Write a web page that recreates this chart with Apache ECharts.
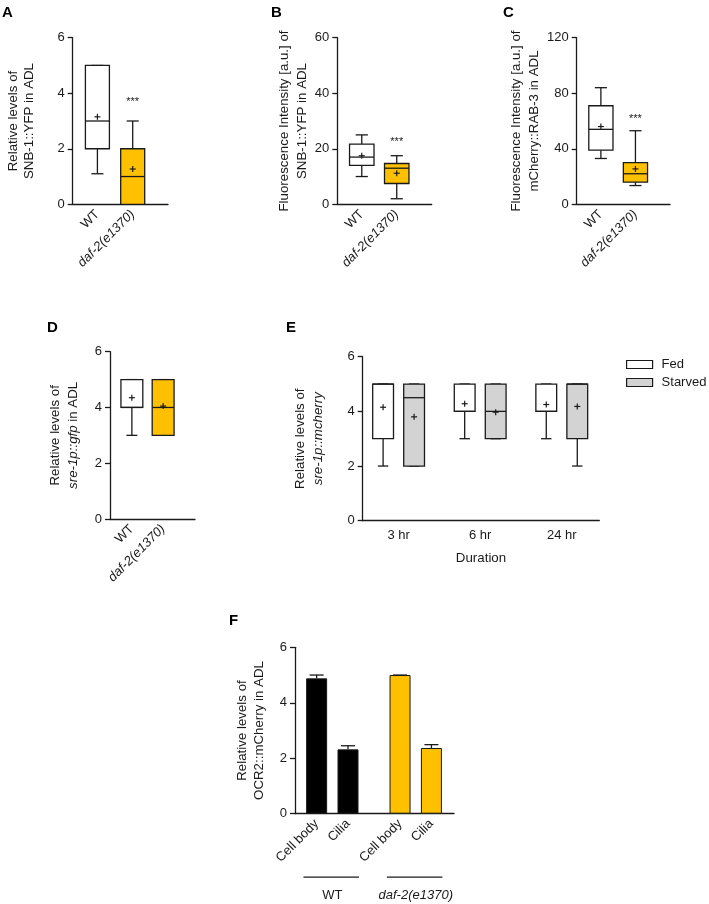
<!DOCTYPE html>
<html>
<head>
<meta charset="utf-8">
<title>ADL panels</title>
<script src="https://cdn.jsdelivr.net/npm/echarts@6/dist/echarts.min.js"></script>
<style>
  html, body { margin: 0; padding: 0; background: #fff; }
  #chart { width: 709px; height: 904px; }
</style>
</head>
<body>
<div id="chart"></div>
<script>
// ---- data ----
const genotypes = ['WT', 'daf-2(e1370)'];
// box stats: [min, q1, median, q3, max]
const snbLevelStats = [[1.1, 2, 3, 5, 5], [0, 0, 1, 2, 3]];
const snbLevelMeans = [3.15, 1.27];
const snbLevelSig = [null, 3.68];
const snbIntensityStats = [[10, 14, 17, 21.7, 25], [2, 7.5, 13, 14.7, 17.5]];
const snbIntensityMeans = [17.5, 11.2];
const snbIntensitySig = [null, 22.5];
const rabIntensityStats = [[33, 39, 54, 71, 84], [13.5, 16, 22, 30, 53]];
const rabIntensityMeans = [56, 25.5];
const rabIntensitySig = [null, 61.5];
const sreLevelStats = [[3, 4, 4, 5, 5], [3, 3, 4, 5, 5]];
const sreLevelMeans = [4.35, 4.05];
const sigText = '***';

const durations = ['3 hr', '6 hr', '24 hr'];
const fedStats = [[2, 3, 5, 5, 5], [3, 4, 4, 5, 5], [3, 4, 4, 5, 5]];
const fedMeans = [4.15, 4.28, 4.25];
const starvedStats = [[2, 2, 4.5, 5, 5], [3, 3, 4, 5, 5], [2, 3, 5, 5, 5]];
const starvedMeans = [3.8, 3.97, 4.18];

const sites = ['Cell body', 'Cilia'];
const ocrMeans = [[4.88, 2.32], [5.0, 2.37]];
const ocrSem = [[0.12, 0.13], [0, 0.12]];

const levelTicks = [0, 2, 4, 6];
const snbIntensityTicks = [0, 20, 40, 60];
const rabIntensityTicks = [0, 40, 80, 120];

// ---- styles ----
const INK = '#1a1a1a';
const ORANGE = '#FFC000';
const GREY = '#D3D3D3';
const FONT = 'Liberation Sans, Arial, sans-serif';

const chart = echarts.init(document.getElementById('chart'));

function tickRange(ticks) {
  return { min: ticks[0], max: ticks[ticks.length - 1], interval: ticks[1] - ticks[0] };
}

function italicLabel(name) {
  return name.indexOf('daf') === 0 ? '{i|' + name + '}' : name;
}

// y 轴
function makeYAxis(gridIndex, ticks, name, gap, lineH) {
  return Object.assign({
    type: 'value',
    gridIndex: gridIndex,
    name: name,
    nameLocation: 'middle',
    nameRotate: 90,
    nameGap: gap,
    nameTextStyle: {
      fontFamily: FONT, fontSize: 13.3, color: INK, lineHeight: lineH, align: 'center',
      rich: { i: { fontFamily: FONT, fontSize: 13.3, color: INK, fontStyle: 'italic', lineHeight: lineH } }
    },
    axisLine: { show: true, lineStyle: { color: INK, width: 1.3 } },
    axisTick: { show: true, length: 5, lineStyle: { color: INK, width: 1.3 } },
    axisLabel: { margin: 8, fontFamily: FONT, fontSize: 13, color: INK },
    splitLine: { show: false }
  }, tickRange(ticks));
}

// x 轴（数值轴，标签放在指定位置）
function makeXAxis(gridIndex, min, max, positions, labels, opts) {
  return Object.assign({
    type: 'value',
    gridIndex: gridIndex,
    position: 'bottom',
    min: min,
    max: max,
    axisLine: { show: true, onZero: false, lineStyle: { color: INK, width: 1.3 } },
    axisTick: { show: false },
    splitLine: { show: false },
    axisLabel: {
      customValues: positions,
      fontFamily: FONT, fontSize: 13, color: INK,
      rotate: 45, margin: 8,
      formatter: function (v) {
        for (let i = 0; i < positions.length; i++) {
          if (Math.abs(positions[i] - v) < 1e-6) return italicLabel(labels[i]);
        }
        return '';
      },
      rich: { i: { fontFamily: FONT, fontSize: 13, color: INK, fontStyle: 'italic' } }
    }
  }, opts || {});
}

// 箱线图（自定义系列）
function boxRenderer(fills, boxW, sigs) {
  return function (params, api) {
    const x = api.value(0);
    const p = [1, 2, 3, 4, 5].map(function (d) { return api.coord([x, api.value(d)]); });
    const m = api.coord([x, api.value(6)]);
    const cx = p[0][0];
    const w = api.size([boxW, 0])[0];
    const cap = w * 0.5;
    const ls = { stroke: INK, lineWidth: 1.3, fill: null };
    const children = [
      { type: 'line', shape: { x1: cx, y1: p[0][1], x2: cx, y2: p[1][1] }, style: ls },
      { type: 'line', shape: { x1: cx, y1: p[3][1], x2: cx, y2: p[4][1] }, style: ls },
      { type: 'line', shape: { x1: cx - cap / 2, y1: p[0][1], x2: cx + cap / 2, y2: p[0][1] }, style: ls },
      { type: 'line', shape: { x1: cx - cap / 2, y1: p[4][1], x2: cx + cap / 2, y2: p[4][1] }, style: ls },
      { type: 'rect', shape: { x: cx - w / 2, y: p[3][1], width: w, height: p[1][1] - p[3][1] },
        style: { fill: fills[params.dataIndex % fills.length], stroke: INK, lineWidth: 1.3 } },
      { type: 'line', shape: { x1: cx - w / 2, y1: p[2][1], x2: cx + w / 2, y2: p[2][1] }, style: ls },
      { type: 'line', shape: { x1: m[0] - 3, y1: m[1], x2: m[0] + 3, y2: m[1] }, style: { stroke: INK, lineWidth: 1.2 } },
      { type: 'line', shape: { x1: m[0], y1: m[1] - 3, x2: m[0], y2: m[1] + 3 }, style: { stroke: INK, lineWidth: 1.2 } }
    ];
    if (sigs && sigs[params.dataIndex] != null) {
      const s = api.coord([x, sigs[params.dataIndex]]);
      children.push({
        type: 'text',
        style: {
          x: s[0], y: s[1], text: sigText,
          fill: INK, font: '11px ' + FONT, align: 'center', verticalAlign: 'middle'
        }
      });
    }
    return { type: 'group', children: children };
  };
}

function boxData(stats, means, offset) {
  return stats.map(function (s, i) { return [i + 1 + (offset || 0)].concat(s, [means[i]]); });
}

function boxSeries(name, idx, stats, means, fills, boxW, sigs, offset) {
  return {
    type: 'custom',
    name: name,
    xAxisIndex: idx,
    yAxisIndex: idx,
    renderItem: boxRenderer(fills, boxW, sigs),
    encode: { x: 0, y: [1, 2, 3, 4, 5, 6] },
    data: boxData(stats, means, offset),
    silent: true
  };
}

// ---- 面板 F 位置 ----
const fGroupStep = 2.66;
const fPositions = [];
const fLabels = [];
const fBars = [];
const fErr = [];
genotypes.forEach(function (g, gi) {
  sites.forEach(function (s, si) {
    const x = 1 + gi * fGroupStep + si;
    fPositions.push(x);
    fLabels.push(s);
    fBars.push({
      value: [x, ocrMeans[gi][si]],
      itemStyle: { color: gi === 0 ? '#000' : ORANGE, borderColor: INK, borderWidth: 1 }
    });
    fErr.push([x, ocrMeans[gi][si], ocrSem[gi][si]]);
  });
});
const fGroupCenters = genotypes.map(function (g, gi) { return 1 + gi * fGroupStep + 0.5; });
const fGroupSpans = genotypes.map(function (g, gi) {
  return [1 + gi * fGroupStep - 0.42, 1 + gi * fGroupStep + 1 + 0.35];
});

const abcdPos = [1, 2];
const ePos = [1, 2, 3];

const option = {
  backgroundColor: '#fff',
  animation: false,
  textStyle: { fontFamily: FONT },
  title: [
    { text: 'A', left: 2, top: 5 },
    { text: 'B', left: 271, top: 5 },
    { text: 'C', left: 503, top: 5 },
    { text: 'D', left: 47, top: 320 },
    { text: 'E', left: 286, top: 320 },
    { text: 'F', left: 229, top: 613 }
  ].map(function (t) {
    return Object.assign(t, { padding: 0, textStyle: { fontFamily: FONT, fontSize: 15, fontWeight: 'bold', color: '#000' } });
  }),
  legend: {
    orient: 'vertical',
    left: 621,
    top: 353,
    itemWidth: 26,
    itemHeight: 8,
    itemGap: 5,
    selectedMode: false,
    textStyle: { fontFamily: FONT, fontSize: 13, color: INK, padding: [0, 0, 0, 4] },
    data: [
      { name: 'Fed', icon: 'rect', itemStyle: { color: '#fff', borderColor: INK, borderWidth: 1.2 } },
      { name: 'Starved', icon: 'rect', itemStyle: { color: GREY, borderColor: INK, borderWidth: 1.2 } }
    ]
  },
  grid: [
    { left: 72.7, top: 37.7, width: 95.3, height: 166.6 },
    { left: 337.3, top: 37.7, width: 94.4, height: 166.6 },
    { left: 576.7, top: 37.7, width: 93.3, height: 166.6 },
    { left: 110, top: 351.7, width: 85, height: 167.3 },
    { left: 362.7, top: 356.7, width: 236.6, height: 164 },
    { left: 295, top: 647.3, width: 159, height: 166.4 }
  ].map(function (g) { return Object.assign(g, { outerBoundsMode: 'none', containLabel: false }); }),
  xAxis: [
    makeXAxis(0, 0.3, 3.0, abcdPos, genotypes),
    makeXAxis(1, 0.3, 3.0, abcdPos, genotypes),
    makeXAxis(2, 0.3, 3.0, abcdPos, genotypes),
    makeXAxis(3, 0.3, 3.02, abcdPos, genotypes),
    (function () {
      const ax = makeXAxis(4, 0.56, 3.46, ePos, durations, {
        name: 'Duration', nameLocation: 'middle', nameGap: 31,
        nameTextStyle: { fontFamily: FONT, fontSize: 13.3, color: INK }
      });
      ax.axisLabel.rotate = 0;
      ax.axisLabel.margin = 8;
      return ax;
    })(),
    makeXAxis(5, 0.31, 5.38, fPositions, fLabels),
    (function () {
      const ax = makeXAxis(5, 0.31, 5.38, fGroupCenters, genotypes);
      ax.axisLine.show = false;
      ax.axisLabel.rotate = 0;
      ax.axisLabel.margin = 75;
      return ax;
    })()
  ],
  yAxis: [
    makeYAxis(0, levelTicks, 'Relative levels of\nSNB-1::YFP in ADL', 35, 16),
    makeYAxis(1, snbIntensityTicks, 'Fluorescence Intensity [a.u.] of\nSNB-1::YFP in ADL', 25, 18),
    makeYAxis(2, rabIntensityTicks, 'Fluorescence Intensity [a.u.] of\nmCherry::RAB-3 in ADL', 33, 18),
    makeYAxis(3, levelTicks, 'Relative levels of\n{i|sre-1p::gfp} in ADL', 28, 18),
    makeYAxis(4, levelTicks, 'Relative levels of\n{i|sre-1p::mcherry}', 35, 18),
    makeYAxis(5, levelTicks, 'Relative levels of\nOCR2::mCherry in ADL', 27, 17)
  ],
  series: [
    boxSeries('A', 0, snbLevelStats, snbLevelMeans, ['#fff', ORANGE], 0.68, snbLevelSig),
    boxSeries('B', 1, snbIntensityStats, snbIntensityMeans, ['#fff', ORANGE], 0.7, snbIntensitySig),
    boxSeries('C', 2, rabIntensityStats, rabIntensityMeans, ['#fff', ORANGE], 0.7, rabIntensitySig),
    boxSeries('D', 3, sreLevelStats, sreLevelMeans, ['#fff', ORANGE], 0.7, null),
    boxSeries('Fed', 4, fedStats, fedMeans, ['#fff'], 0.255, null, -0.19),
    boxSeries('Starved', 4, starvedStats, starvedMeans, [GREY], 0.255, null, 0.19),
    {
      type: 'bar',
      name: 'OCR2',
      xAxisIndex: 5,
      yAxisIndex: 5,
      barWidth: 21,
      data: fBars,
      silent: true
    },
    {
      // 误差线
      type: 'custom',
      name: 'sem',
      xAxisIndex: 5,
      yAxisIndex: 5,
      encode: { x: 0, y: [1] },
      data: fErr,
      silent: true,
      z: 3,
      renderItem: function (params, api) {
        const x = api.value(0);
        const top = api.coord([x, api.value(1) + api.value(2)]);
        const base = api.coord([x, api.value(1)]);
        const ls = { stroke: INK, lineWidth: 1.3 };
        return {
          type: 'group',
          children: [
            { type: 'line', shape: { x1: top[0], y1: base[1], x2: top[0], y2: top[1] }, style: ls },
            { type: 'line', shape: { x1: top[0] - 7, y1: top[1], x2: top[0] + 7, y2: top[1] }, style: ls }
          ]
        };
      }
    },
    {
      // 分组横线
      type: 'custom',
      name: 'groups',
      xAxisIndex: 5,
      yAxisIndex: 5,
      encode: { x: [0, 1] },
      data: fGroupSpans,
      silent: true,
      clip: false,
      renderItem: function (params, api) {
        const a = api.coord([api.value(0), 0]);
        const b = api.coord([api.value(1), 0]);
        return {
          type: 'line',
          shape: { x1: a[0], y1: a[1] + 63.5, x2: b[0], y2: b[1] + 63.5 },
          style: { stroke: INK, lineWidth: 1.2 }
        };
      }
    }
  ]
};

chart.setOption(option);
</script>
</body>
</html>
